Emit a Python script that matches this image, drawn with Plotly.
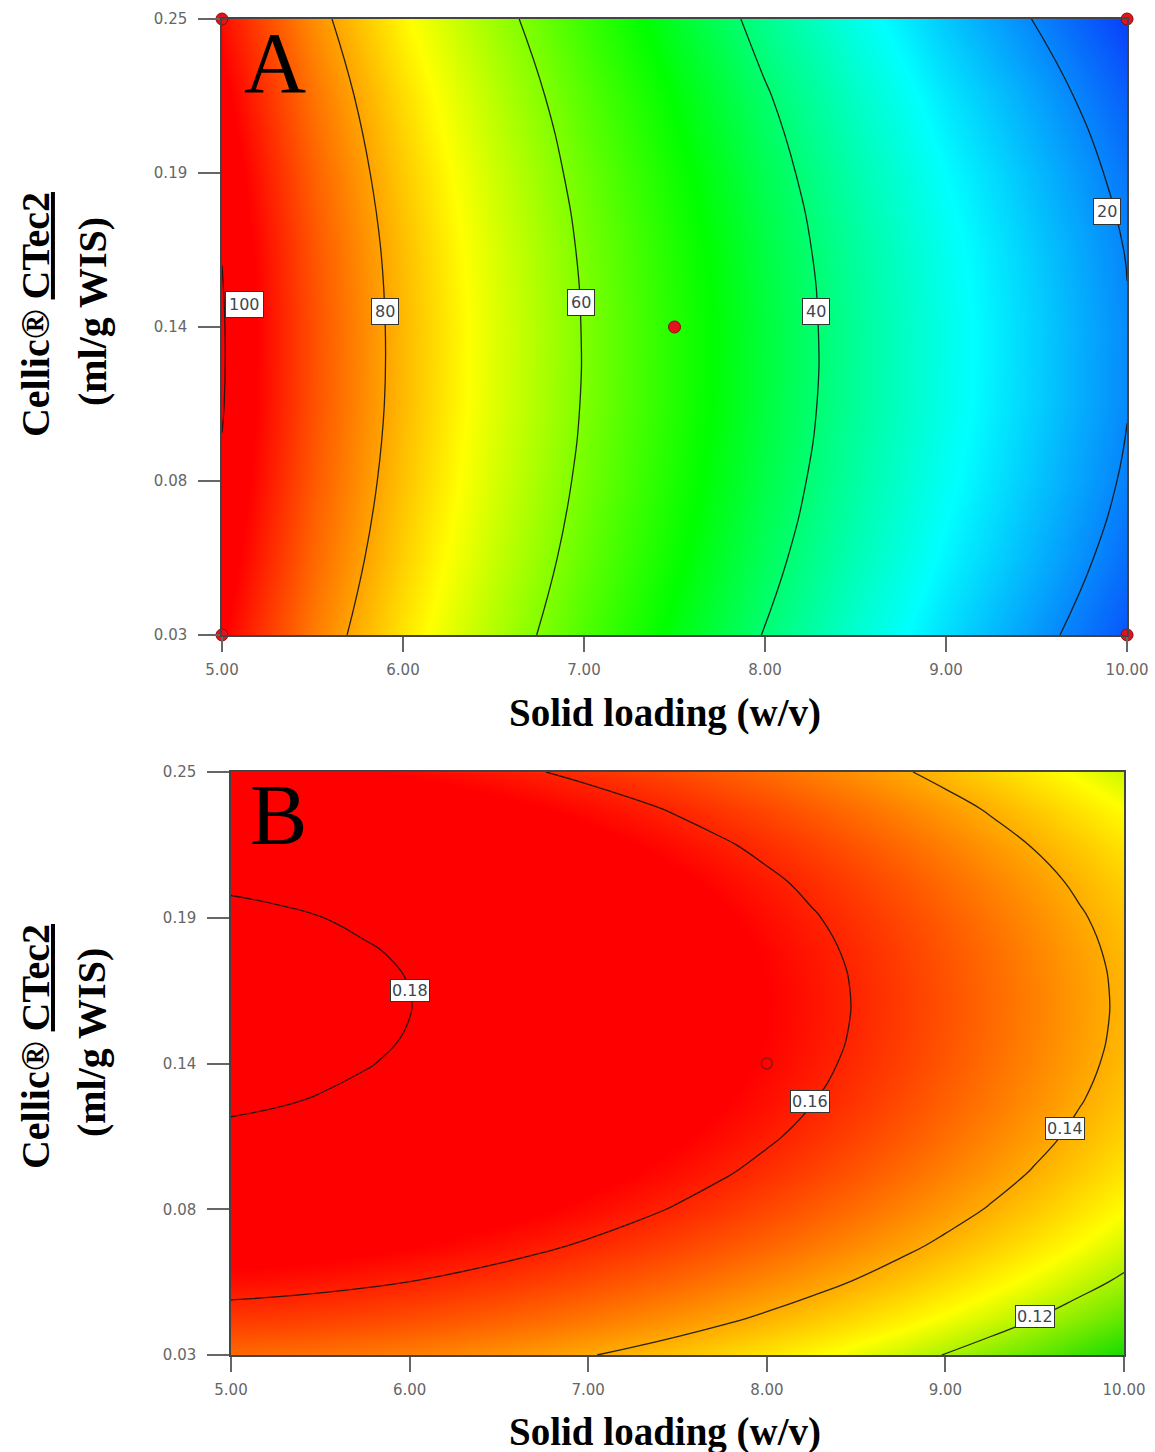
import plotly.graph_objects as go

# ---- factor grids -----------------------------------------------------
solid_loading_a = [5.0, 5.5, 6.0, 6.5, 7.0, 7.5, 8.0, 8.5, 9.0, 9.5, 10.0]
enzyme_loading_a = [0.03, 0.0575, 0.085, 0.1125, 0.14, 0.1675, 0.195, 0.2225, 0.25]

solid_loading_b = [5.0, 5.25, 5.5, 5.75, 6.0, 6.25, 6.5, 6.75, 7.0, 7.25, 7.5,
                   7.75, 8.0, 8.25, 8.5, 8.75, 9.0, 9.25, 9.5, 9.75, 10.0]
enzyme_loading_b = [0.03, 0.04375, 0.0575, 0.07125, 0.085, 0.09875, 0.1125, 0.12625, 0.14,
                    0.15375, 0.1675, 0.18125, 0.195, 0.20875, 0.2225, 0.23625, 0.25]

# ---- response A (one row per enzyme loading, columns follow solid_loading_a)
response_a = [
    [96.1, 83.9, 73.7, 64.2, 55.4, 47.2, 39.7, 32.9, 26.8, 21.4, 16.0],
    [98.1, 85.9, 75.7, 66.2, 57.4, 49.2, 41.7, 34.9, 28.8, 23.4, 18.0],
    [99.5, 87.3, 77.1, 67.6, 58.8, 50.6, 43.1, 36.3, 30.2, 24.8, 19.4],
    [100.3, 88.1, 77.9, 68.4, 59.6, 51.4, 43.9, 37.1, 31.0, 25.6, 20.2],
    [100.4, 88.2, 78.0, 68.5, 59.7, 51.5, 44.0, 37.2, 31.1, 25.7, 20.3],
    [99.9, 87.7, 77.5, 68.0, 59.2, 51.0, 43.5, 36.7, 30.6, 25.2, 19.8],
    [98.7, 86.5, 76.3, 66.8, 58.0, 49.8, 42.3, 35.5, 29.4, 24.0, 18.6],
    [96.9, 84.7, 74.5, 65.0, 56.2, 48.0, 40.5, 33.7, 27.6, 22.2, 16.8],
    [94.4, 82.2, 72.0, 62.5, 53.7, 45.5, 38.0, 31.2, 25.1, 19.7, 14.3],
]

# ---- response B (one row per enzyme loading, columns follow solid_loading_b)
response_b = [
    [0.14948, 0.14898, 0.14829, 0.14743, 0.14638, 0.14516, 0.14375, 0.14216, 0.14039, 0.13844, 0.13631,
     0.13400, 0.13151, 0.12883, 0.12598, 0.12294, 0.11973, 0.11633, 0.11275, 0.10899, 0.10506],
    [0.15680, 0.15630, 0.15561, 0.15475, 0.15370, 0.15248, 0.15107, 0.14948, 0.14771, 0.14576, 0.14363,
     0.14132, 0.13883, 0.13615, 0.13330, 0.13026, 0.12705, 0.12365, 0.12007, 0.11631, 0.11238],
    [0.16304, 0.16254, 0.16185, 0.16099, 0.15994, 0.15872, 0.15731, 0.15572, 0.15395, 0.15200, 0.14987,
     0.14756, 0.14507, 0.14239, 0.13954, 0.13650, 0.13329, 0.12989, 0.12631, 0.12255, 0.11862],
    [0.16828, 0.16778, 0.16709, 0.16623, 0.16518, 0.16396, 0.16255, 0.16096, 0.15919, 0.15724, 0.15511,
     0.15280, 0.15031, 0.14763, 0.14478, 0.14174, 0.13853, 0.13513, 0.13155, 0.12779, 0.12386],
    [0.17263, 0.17213, 0.17144, 0.17058, 0.16953, 0.16831, 0.16690, 0.16531, 0.16354, 0.16159, 0.15946,
     0.15715, 0.15466, 0.15198, 0.14913, 0.14609, 0.14288, 0.13948, 0.13590, 0.13214, 0.12821],
    [0.17614, 0.17564, 0.17495, 0.17409, 0.17304, 0.17182, 0.17041, 0.16882, 0.16705, 0.16510, 0.16297,
     0.16066, 0.15817, 0.15549, 0.15264, 0.14960, 0.14639, 0.14299, 0.13941, 0.13565, 0.13172],
    [0.17890, 0.17840, 0.17771, 0.17685, 0.17580, 0.17458, 0.17317, 0.17158, 0.16981, 0.16786, 0.16573,
     0.16342, 0.16093, 0.15825, 0.15540, 0.15236, 0.14915, 0.14575, 0.14217, 0.13841, 0.13448],
    [0.18094, 0.18044, 0.17975, 0.17889, 0.17784, 0.17662, 0.17521, 0.17362, 0.17185, 0.16990, 0.16777,
     0.16546, 0.16297, 0.16029, 0.15744, 0.15440, 0.15119, 0.14779, 0.14421, 0.14045, 0.13652],
    [0.18230, 0.18180, 0.18111, 0.18025, 0.17920, 0.17798, 0.17657, 0.17498, 0.17321, 0.17126, 0.16913,
     0.16682, 0.16433, 0.16165, 0.15880, 0.15576, 0.15255, 0.14915, 0.14557, 0.14181, 0.13788],
    [0.18302, 0.18252, 0.18183, 0.18097, 0.17992, 0.17870, 0.17729, 0.17570, 0.17393, 0.17198, 0.16985,
     0.16754, 0.16505, 0.16237, 0.15952, 0.15648, 0.15327, 0.14987, 0.14629, 0.14253, 0.13860],
    [0.18311, 0.18261, 0.18192, 0.18106, 0.18001, 0.17879, 0.17738, 0.17579, 0.17402, 0.17207, 0.16994,
     0.16763, 0.16514, 0.16246, 0.15961, 0.15657, 0.15336, 0.14996, 0.14638, 0.14262, 0.13869],
    [0.18254, 0.18204, 0.18135, 0.18049, 0.17944, 0.17822, 0.17681, 0.17522, 0.17345, 0.17150, 0.16937,
     0.16706, 0.16457, 0.16189, 0.15904, 0.15600, 0.15279, 0.14939, 0.14581, 0.14205, 0.13812],
    [0.18126, 0.18076, 0.18007, 0.17921, 0.17816, 0.17694, 0.17553, 0.17394, 0.17217, 0.17022, 0.16809,
     0.16578, 0.16329, 0.16061, 0.15776, 0.15472, 0.15151, 0.14811, 0.14453, 0.14077, 0.13684],
    [0.17920, 0.17870, 0.17801, 0.17715, 0.17610, 0.17488, 0.17347, 0.17188, 0.17011, 0.16816, 0.16603,
     0.16372, 0.16123, 0.15855, 0.15570, 0.15266, 0.14945, 0.14605, 0.14247, 0.13871, 0.13478],
    [0.17627, 0.17577, 0.17508, 0.17422, 0.17317, 0.17195, 0.17054, 0.16895, 0.16718, 0.16523, 0.16310,
     0.16079, 0.15830, 0.15562, 0.15277, 0.14973, 0.14652, 0.14312, 0.13954, 0.13578, 0.13185],
    [0.17238, 0.17188, 0.17119, 0.17033, 0.16928, 0.16806, 0.16665, 0.16506, 0.16329, 0.16134, 0.15921,
     0.15690, 0.15441, 0.15173, 0.14888, 0.14584, 0.14263, 0.13923, 0.13565, 0.13189, 0.12796],
    [0.16742, 0.16692, 0.16623, 0.16537, 0.16432, 0.16310, 0.16169, 0.16010, 0.15833, 0.15638, 0.15425,
     0.15194, 0.14945, 0.14677, 0.14392, 0.14088, 0.13767, 0.13427, 0.13069, 0.12693, 0.12300],
]

# contour levels
levels_a = [20, 40, 60, 80, 100]
levels_b = [0.12, 0.14, 0.16, 0.18]

# design points
design_x_a = [5.0, 10.0, 5.0, 10.0, 7.5]
design_y_a = [0.25, 0.25, 0.03, 0.03, 0.14]
optimum_x_b = [8.0]
optimum_y_b = [0.14]

# axis ticks
x_ticks = [5.0, 6.0, 7.0, 8.0, 9.0, 10.0]
x_tick_text = ["5.00", "6.00", "7.00", "8.00", "9.00", "10.00"]
y_ticks = [0.03, 0.085, 0.14, 0.195, 0.25]
y_tick_text = ["0.03", "0.08", "0.14", "0.19", "0.25"]

# where each contour label sits on its line
label_pos_a = [(9.89, 0.1814), (8.28, 0.1457), (6.983, 0.1486), (5.90, 0.1457), (5.127, 0.1479)]
label_pos_b = [(9.50, 0.0447), (9.67, 0.1153), (8.24, 0.1255), (6.00, 0.1674)]

# ---- colour maps ------------------------------------------------------
scale_a = [
    [0.0, "rgb(10,60,250)"],
    [0.18, "rgb(0,255,255)"],
    [0.40, "rgb(0,255,0)"],
    [0.665, "rgb(255,255,0)"],
    [0.95, "rgb(255,0,0)"],
    [1.0, "rgb(255,0,0)"],
]
scale_b = [
    [0.0, "rgb(20,220,0)"],
    [0.383, "rgb(255,255,0)"],
    [1.0, "rgb(255,0,0)"],
]

line_style = dict(color="rgba(20,20,20,0.9)", width=1.3, smoothing=1.3)

fig = go.Figure()

fig.add_trace(go.Contour(
    x=solid_loading_a, y=enzyme_loading_a, z=response_a,
    colorscale=scale_a, zmin=14, zmax=100, showscale=False,
    contours=dict(start=levels_a[0], end=levels_a[-1] + 0.001,
                  size=levels_a[1] - levels_a[0], coloring="heatmap"),
    line=line_style, hoverinfo="skip", xaxis="x", yaxis="y",
))
fig.add_trace(go.Scatter(
    x=design_x_a, y=design_y_a, mode="markers", cliponaxis=False,
    marker=dict(size=12, color="#e3121b", line=dict(color="#8a0a0a", width=1)),
    hoverinfo="skip", xaxis="x", yaxis="y", showlegend=False,
))

fig.add_trace(go.Contour(
    x=solid_loading_b, y=enzyme_loading_b, z=response_b,
    colorscale=scale_b, zmin=0.105, zmax=0.165, showscale=False,
    contours=dict(start=levels_b[0], end=levels_b[-1] + 0.0001,
                  size=0.02, coloring="heatmap"),
    line=line_style, hoverinfo="skip", xaxis="x2", yaxis="y2",
))
fig.add_trace(go.Scatter(
    x=optimum_x_b, y=optimum_y_b, mode="markers", cliponaxis=False,
    marker=dict(size=11, symbol="circle-open", color="#a01010", line=dict(width=1.6)),
    hoverinfo="skip", xaxis="x2", yaxis="y2", showlegend=False,
))

tick_font = dict(family="DejaVu Sans", size=15, color="#666")
common_x = dict(range=[5, 10], tickvals=x_ticks, ticktext=x_tick_text, ticks="outside",
                ticklen=15, tickwidth=1.5, tickcolor="#666", showline=True, linecolor="#444",
                linewidth=1.5, mirror=True, showgrid=False, zeroline=False, tickfont=tick_font,
                ticklabelstandoff=5, automargin=False)
common_y = dict(range=[0.03, 0.25], tickvals=y_ticks, ticktext=y_tick_text, ticks="outside",
                ticklen=22, tickwidth=1.5, tickcolor="#666", showline=True, linecolor="#444",
                linewidth=1.5, mirror=True, showgrid=False, zeroline=False, tickfont=tick_font,
                ticklabelstandoff=8, automargin=False)

annotations = []
label_style_a = dict(font=dict(family="DejaVu Sans", size=16, color="#3c4650"),
                     bgcolor="white", bordercolor="#333", borderwidth=1, borderpad=3,
                     showarrow=False)
label_style_b = dict(font=dict(family="DejaVu Sans", size=16, color="#3c4650"),
                     bgcolor="white", bordercolor="#333", borderwidth=1, borderpad=1,
                     showarrow=False)
for lvl, (lx, ly) in zip(levels_a, label_pos_a):
    annotations.append(dict(x=lx, y=ly, xref="x", yref="y", text=str(lvl), **label_style_a))
for lvl, (lx, ly) in zip(levels_b, label_pos_b):
    annotations.append(dict(x=lx, y=ly, xref="x2", yref="y2", text=f"{lvl:.2f}", **label_style_b))

serif_big = dict(family="Liberation Serif", size=86, color="black")
annotations += [
    dict(x=0.2381, y=0.9566, xref="paper", yref="paper", text="A", showarrow=False,
         font=serif_big, xanchor="center", yanchor="middle"),
    dict(x=0.2407, y=0.4387, xref="paper", yref="paper", text="B", showarrow=False,
         font=serif_big, xanchor="center", yanchor="middle"),
]

title_font = dict(family="Liberation Serif", size=39, color="black")
ytitle_font = dict(family="Liberation Serif", size=40, color="black")
for ty, l1y, l2y in [(0.5090, 0.7837, 0.7851), (0.0138, 0.2796, 0.2817)]:
    annotations.append(dict(x=0.5758, y=ty, xref="paper", yref="paper",
                            text="<b>Solid loading (w/v)</b>", showarrow=False,
                            font=title_font, xanchor="center", yanchor="middle"))
    annotations.append(dict(x=0.0303, y=l1y, xref="paper", yref="paper",
                            text="<b>Cellic® <u>CTec2</u></b>", showarrow=False, textangle=-90,
                            font=ytitle_font, xanchor="center", yanchor="middle"))
    annotations.append(dict(x=0.0797, y=l2y, xref="paper", yref="paper",
                            text="<b>(ml/g WIS)</b>", showarrow=False, textangle=-90,
                            font=ytitle_font, xanchor="center", yanchor="middle"))

fig.update_layout(
    width=1155, height=1452,
    margin=dict(l=0, r=0, t=0, b=0, autoexpand=False),
    paper_bgcolor="white", plot_bgcolor="white",
    showlegend=False,
    xaxis=dict(domain=[0.1922, 0.9758], anchor="y", **common_x),
    yaxis=dict(domain=[0.5627, 0.9869], anchor="x", **common_y),
    xaxis2=dict(domain=[0.2000, 0.9732], anchor="y2", **common_x),
    yaxis2=dict(domain=[0.0668, 0.4683], anchor="x2", **common_y),
    annotations=annotations,
)

fig.write_html("out.html")
